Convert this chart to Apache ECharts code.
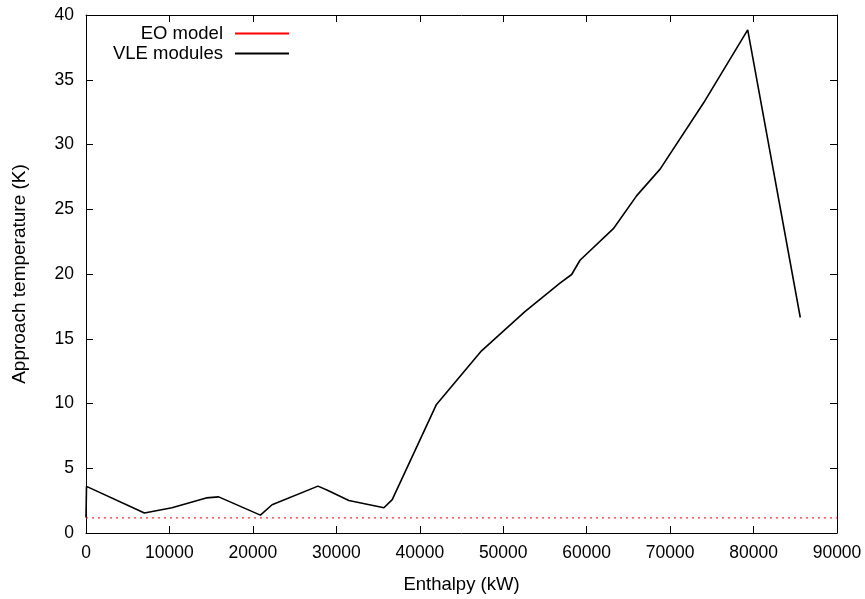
<!DOCTYPE html>
<html>
<head>
<meta charset="utf-8">
<script src="https://cdn.jsdelivr.net/npm/echarts@6/dist/echarts.min.js"></script>
<style>html,body{margin:0;padding:0;background:#fff}#c{width:865px;height:599px}</style>
</head>
<body>
<div id="c"></div>
<script>
const vleEnthalpy = [0, 60, 7000, 10300, 14400, 15900, 20900, 22300, 27800, 29000, 31500, 35700, 36700, 42000, 47400, 52600, 56800, 58200, 59200, 63200, 66000, 68800, 74000, 79300, 85600];
const vleApproach = [1.2, 3.6, 1.54, 1.95, 2.71, 2.79, 1.38, 2.18, 3.62, 3.28, 2.51, 1.95, 2.58, 9.93, 14.07, 17.1, 19.3, 19.96, 21.06, 23.5, 26.05, 28.1, 33.2, 38.85, 16.64];
const eoEnthalpy = [0, 90000];
const eoApproach = [1.17, 1.17];
const xTicks = [0, 10000, 20000, 30000, 40000, 50000, 60000, 70000, 80000, 90000];
const yTicks = [0, 5, 10, 15, 20, 25, 30, 35, 40];

const font = 'Liberation Sans, Arial, Helvetica, sans-serif';
const chart = echarts.init(document.getElementById('c'), null, {renderer: 'canvas'});
const axisCommon = {
  axisLine: {show: true, onZero: false, lineStyle: {color: '#000', width: 1}},
  axisTick: {show: true, inside: true, length: 7, lineStyle: {color: '#000', width: 1}},
  splitLine: {show: false}
};
const legendCommon = {
  right: 571, align: 'right', orient: 'vertical',
  itemWidth: 54, itemHeight: 2, icon: 'rect',
  textStyle: {fontFamily: font, fontSize: 18.5, color: '#000', padding: [0, 7, 0, 0]}
};
chart.setOption({
  animation: false,
  backgroundColor: '#fff',
  grid: {left: 86, right: 28, top: 15, bottom: 63, containLabel: false},
  legend: [
    Object.assign({data: [{name: 'EO model', itemStyle: {color: '#ff0000'}}], top: 19}, legendCommon),
    Object.assign({data: [{name: 'VLE modules', itemStyle: {color: '#000'}}], top: 39}, legendCommon)
  ],
  xAxis: [
    Object.assign({
      type: 'value', min: 0, max: 90000, interval: 10000, position: 'bottom',
      name: 'Enthalpy (kW)', nameLocation: 'middle', nameGap: 42,
      nameTextStyle: {fontFamily: font, fontSize: 18.5, color: '#000'},
      axisLabel: {fontFamily: font, fontSize: 17.5, color: '#000', margin: 11,
        formatter: v => xTicks.includes(v) ? String(v) : ''}
    }, axisCommon),
    Object.assign({
      type: 'value', min: 0, max: 90000, interval: 10000, position: 'top',
      axisLabel: {show: false}
    }, axisCommon)
  ],
  yAxis: [
    Object.assign({
      type: 'value', min: 0, max: 40, interval: 5, position: 'left',
      name: 'Approach temperature (K)', nameLocation: 'middle', nameGap: 57,
      nameTextStyle: {fontFamily: font, fontSize: 19, color: '#000'},
      axisLabel: {fontFamily: font, fontSize: 17.5, color: '#000', margin: 12,
        formatter: v => yTicks.includes(v) ? String(v) : ''}
    }, axisCommon),
    Object.assign({
      type: 'value', min: 0, max: 40, interval: 5, position: 'right',
      axisLabel: {show: false}
    }, axisCommon)
  ],
  series: [
    {
      name: 'EO model', type: 'line', symbol: 'none', xAxisIndex: 0, yAxisIndex: 0,
      data: eoEnthalpy.map((x, i) => [x, eoApproach[i]]),
      lineStyle: {color: '#ff3333', width: 1.2, type: [2, 4]},
      itemStyle: {color: '#ff0000'}
    },
    {
      name: 'VLE modules', type: 'line', symbol: 'none', xAxisIndex: 0, yAxisIndex: 0,
      data: vleEnthalpy.map((x, i) => [x, vleApproach[i]]),
      lineStyle: {color: '#000', width: 1.6},
      itemStyle: {color: '#000'}
    }
  ]
});
</script>
</body>
</html>
